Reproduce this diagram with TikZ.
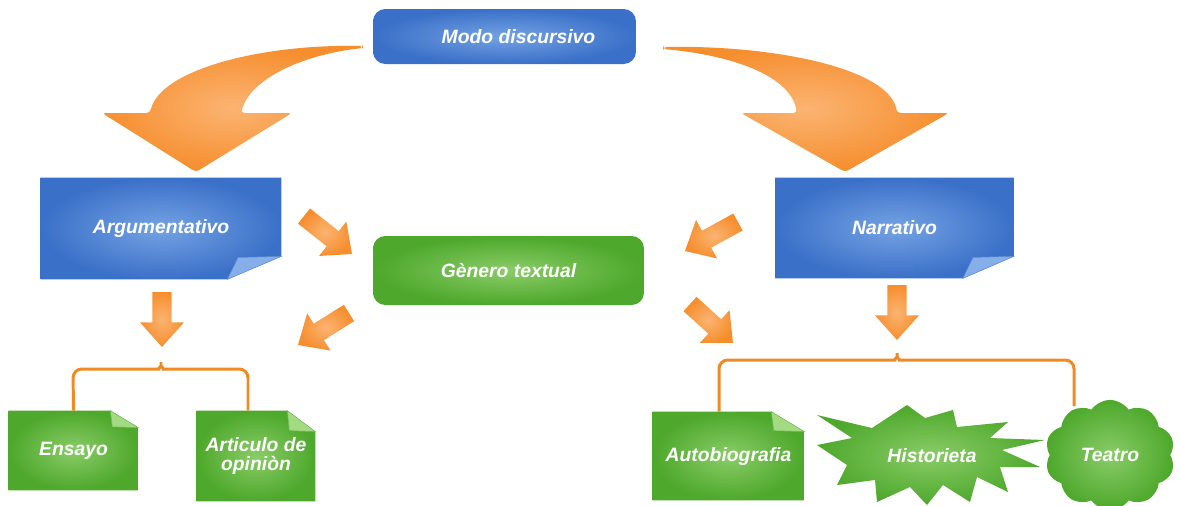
\documentclass[tikz,border=0pt]{standalone}
\usepackage{fontspec}
\setmainfont{Liberation Sans}
\usetikzlibrary{calc,shapes.symbols}
\pgfdeclarelayer{background}
\pgfsetlayers{background,main}

\definecolor{blueout}{HTML}{3A70C8}
\definecolor{bluein}{HTML}{74A2E3}
\definecolor{bluefold}{HTML}{86AFEA}
\definecolor{greenout}{HTML}{4DA82B}
\definecolor{greenin}{HTML}{8ACC68}
\definecolor{greenfold}{HTML}{A3DA82}
\definecolor{orangeout}{HTML}{F68E2E}
\definecolor{orangein}{HTML}{FBB472}
\definecolor{braceorange}{HTML}{F08A24}

\tikzset{
  label text/.style={text=white,font=\fontsize{11}{11}\selectfont\bfseries\itshape,align=center},
  bluebox/.style={shade,inner color=bluein,outer color=blueout},
  greenbox/.style={shade,inner color=greenin,outer color=greenout},
  orangefill/.style={shade,inner color=orangein,outer color=orangeout},
  roundbox/.style={rounded corners=7pt,inner sep=0pt},
  notebox/.style={label text,inner sep=0pt},
  brace line/.style={draw=braceorange,line width=1.7pt,rounded corners=5pt},
}

% block arrow from #1 (tail) to #2 (tip)
\newcommand{\blockarrow}[2]{%
  \coordinate (ba-h) at ($(#2)!14pt!(#1)$);
  \shade[orangefill] ($(#1)!5.5pt!90:(#2)$) -- ($(ba-h)!5.5pt!90:(#2)$)
    -- ($(ba-h)!12.5pt!90:(#2)$) -- (#2) -- ($(ba-h)!12.5pt!-90:(#2)$)
    -- ($(ba-h)!5.5pt!-90:(#2)$) -- ($(#1)!5.5pt!-90:(#2)$) -- cycle;}

% note with fold at the bottom right: node, colour, x cut, y cut
\newcommand{\foldbr}[4]{%
  \shade[#2box] (#1.north west) -- (#1.north east) -- ([yshift=#4]#1.south east)
    -- ([xshift=-#3]#1.south east) -- (#1.south west) -- cycle;
  \filldraw[fill=#2fold,draw=#2out!80!white,line width=.3pt] ([yshift=#4]#1.south east)
    -- ([xshift=-0.8*#3,yshift=0.95*#4]#1.south east) -- ([xshift=-#3]#1.south east) -- cycle;}

% note with fold at the top right
\newcommand{\foldtr}[4]{%
  \shade[#2box] (#1.south west) -- (#1.north west) -- ([xshift=-#3]#1.north east)
    -- ([yshift=-#4]#1.north east) -- (#1.south east) -- cycle;
  \filldraw[fill=#2fold,draw=#2out!80!white,line width=.3pt] ([xshift=-#3]#1.north east)
    -- ([xshift=-0.93*#3,yshift=-0.95*#4]#1.north east) -- ([yshift=-#4]#1.north east) -- cycle;}

\begin{document}
\begin{tikzpicture}[x=0.02cm,y=-0.02cm]
  \useasboundingbox (0,0) rectangle (1180,505);

  % top and middle boxes
  \draw (504.5,36.5) node[roundbox,bluebox,minimum width=5.26cm,minimum height=1.1cm] (modo) {};
  \draw ([xshift=0.28cm]modo.center) node[label text] (modo-text) {Modo discursivo};
  \draw (508.5,270.5) node[roundbox,label text,greenbox,minimum width=5.42cm,minimum height=1.38cm] (genero) {Gènero textual};
  \draw (161,228.5) node[notebox,minimum width=4.8cm,minimum height=2.02cm] (argum) {Argumentativo};
  \draw (894.5,228) node[notebox,minimum width=4.76cm,minimum height=2cm] (narr) {Narrativo};

  % bottom notes
  \draw (73.5,450.5) node[notebox,minimum width=2.58cm,minimum height=1.58cm] (ensayo) {Ensayo};
  \draw (256,456) node[notebox,minimum width=2.36cm,minimum height=1.8cm] (articulo) {Articulo de\\opiniòn};
  \draw (728.5,456) node[notebox,minimum width=3.02cm,minimum height=1.76cm] (autobio) {Autobiografia};
  \draw (932,456) node[label text] (histor) {Historieta};
  \draw (1110,455) node[label text,cloud,cloud puffs=10,cloud puff arc=110,
    minimum width=2.6cm,minimum height=1.8cm,greenbox] (teatro) {Teatro};

  \begin{pgfonlayer}{background}
    \foldbr{argum}{blue}{1.08cm}{0.46cm}
    \foldbr{narr}{blue}{1.02cm}{0.44cm}
    \foldtr{ensayo}{green}{0.56cm}{0.34cm}
    \foldtr{articulo}{green}{0.56cm}{0.42cm}
    \foldtr{autobio}{green}{0.66cm}{0.4cm}
    % burst behind Historieta
    \shade[greenbox] (817,415) -- (872,428) -- (907,405) -- (925,418) -- (953,410) -- (957,427)
      -- (1008,422) -- (990,438) -- (1045,440) -- (1002,450) -- (1040,467) -- (1000,467)
      -- (1008,492) -- (977,477) -- (970,502) -- (943,485) -- (927,505) -- (910,487)
      -- (877,502) -- (875,480) -- (837,485) -- (847,465) -- (817,445) -- (852,438) -- cycle;
  \end{pgfonlayer}

  % curved arrows from the top box
  \shade[orangefill,rounded corners=2pt] (363,46) .. controls (260,44) and (160,70) .. (150,113)
    -- (102,113) -- (196,172) -- (292,113) -- (241,113)
    .. controls (250,80) and (300,55) .. (363,48) -- cycle;
  \shade[orangefill,rounded corners=2pt] (663,47) .. controls (780,45) and (890,70) .. (897,113)
    -- (949,113) -- (845,172) -- (741,113) -- (797,113)
    .. controls (790,75) and (730,55) .. (663,49) -- cycle;

  % small arrows
  \coordinate (a1) at (304,216);  \coordinate (a1t) at (352,254);
  \coordinate (a2) at (738,222);  \coordinate (a2t) at (685,251);
  \coordinate (a3) at (349,313);  \coordinate (a3t) at (298,345);
  \coordinate (a4) at (690,304);  \coordinate (a4t) at (733,343);
  \coordinate (a5) at (162,292);  \coordinate (a5t) at (162,347);
  \coordinate (a6) at (897,285);  \coordinate (a6t) at (897,340);
  \blockarrow{a1}{a1t}
  \blockarrow{a2}{a2t}
  \blockarrow{a3}{a3t}
  \blockarrow{a4}{a4t}
  \blockarrow{a5}{a5t}
  \blockarrow{a6}{a6t}

  % braces
  \coordinate (lb-tip) at (161,357);
  \coordinate (rb-tip) at (897,348);
  \coordinate (rb-end) at (1074,406);
  \draw[brace line] (ensayo.north) -- (73,369) -- (150,369)
    .. controls (158,369) and (161,366) .. (lb-tip) .. controls (161,366) and (164,369) .. (172,369)
    -- (248,369) -- ([xshift=-0.16cm]articulo.north);
  \draw[brace line] ([xshift=-0.19cm]autobio.north) -- (719,360) -- (886,360)
    .. controls (894,360) and (897,357) .. (rb-tip) .. controls (897,357) and (900,360) .. (908,360)
    -- (1074,360) -- (rb-end);
\end{tikzpicture}
\end{document}
